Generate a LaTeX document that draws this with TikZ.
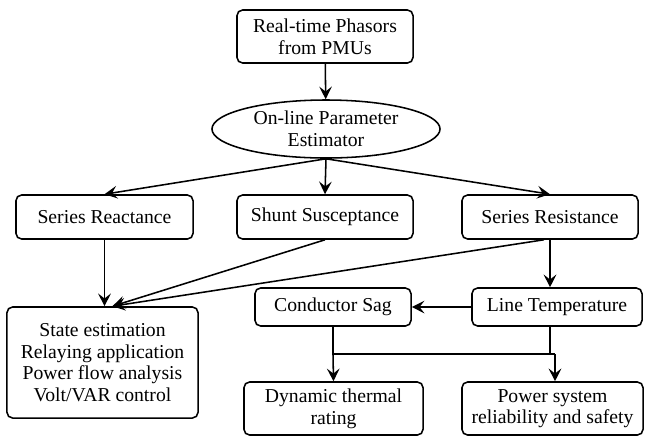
\documentclass[tikz,border=0pt]{standalone}
\usepackage{fontspec}
\setmainfont{Liberation Serif}
\usetikzlibrary{shapes.geometric,arrows.meta}

\begin{document}
\begin{tikzpicture}[x=0.025cm, y=-0.025cm, line width=1.1pt,
  every node/.style={font=\fontsize{14}{15.4}\selectfont, align=center, inner sep=1pt},
  box/.style={draw, rounded corners=4pt},
  oval/.style={draw, ellipse, inner sep=0pt},
  >={Stealth[length=9pt,width=9pt,inset=3.5pt]}]
  \useasboundingbox (0,0) rectangle (645,437);
  \coordinate (jl) at (333,354); \coordinate (jr) at (555,354);
  \node[box, minimum width=4.4cm, minimum height=1.325cm] (phasor) at (325,36.5) {Real-time Phasors\\ from PMUs};
  \node[oval, minimum width=5.7cm, minimum height=1.45cm] (est) at (326,129) {On-line Parameter\\ Estimator};
  \node[box, minimum width=4.425cm, minimum height=1.1cm] (react) at (104.5,217) {Series Reactance};
  \node[box, minimum width=4.4cm, minimum height=1.1cm] (shunt) at (325,217) {Shunt Susceptance};
  \node[box, minimum width=4.4cm, minimum height=1.1cm] (resist) at (550,217) {Series Resistance};
  \node[box, minimum width=4.775cm, minimum height=2.775cm] (apps) at (102.5,362.5) {State estimation\\ Relaying application\\ Power flow analysis\\ Volt/VAR control};
  \node[box, minimum width=3.9cm, minimum height=0.95cm] (sag) at (333,307) {Conductor Sag};
  \node[box, minimum width=4.25cm, minimum height=0.95cm] (temp) at (557,307) {Line Temperature};
  \node[box, minimum width=4.475cm, minimum height=1.325cm] (dtr) at (333.5,408.5) {Dynamic thermal\\ rating};
  \node[box, minimum width=4.525cm, minimum height=1.325cm] (psr) at (552.5,408.5) {Power system\\ reliability and safety};
  \draw[->] (phasor) -- (est);
  \draw[->] (est.south) -- (react.north);
  \draw[->] (est.south) -- (shunt.north);
  \draw[->] (est.south) -- (resist.north);
  \draw[->] (react.south) -- (react.south |- apps.north);
  \draw[->] (shunt.south) -- (apps.80);
  \draw[->] (resist.-105) -- (apps.80);
  \draw[->] (resist.south) -- (resist.south |- temp.north);
  \draw[->] (temp) -- (sag);
  \draw (sag.south) -- (jl) -- (jr);
  \draw (resist.south |- temp.south) -- (resist.south |- jr);
  \draw[->] (jl) -- (dtr.north);
  \draw[->] (jr) -- (jr |- psr.north);
\end{tikzpicture}
\end{document}
